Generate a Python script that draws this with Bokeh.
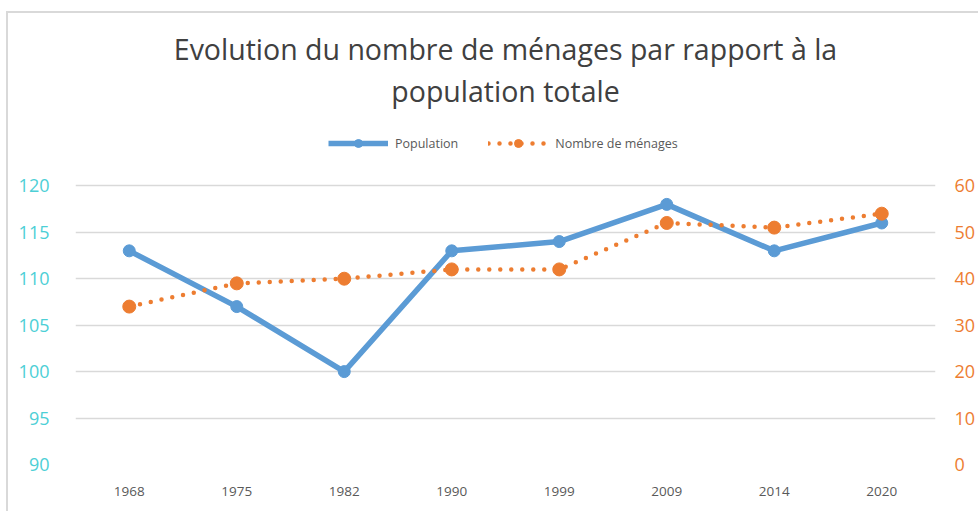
from bokeh.plotting import figure
from bokeh.models import (ColumnDataSource, FactorRange, Range1d, LinearAxis, FixedTicker,
                          Legend, LegendItem, Title)
from bokeh.embed import file_html
from bokeh.resources import INLINE

years = ["1968", "1975", "1982", "1990", "1999", "2009", "2014", "2020"]
population = [113, 107, 100, 113, 114, 118, 113, 116]
menages = [34, 39, 40, 42, 42, 52, 51, 54]
pop_ticks = [90, 95, 100, 105, 110, 115, 120]
men_ticks = [0, 10, 20, 30, 40, 50, 60]

BLUE = "#5B9BD5"
ORANGE = "#ED7D31"
TEAL = "#4DCFD6"
GREY = "#595959"
GRID = "#D9D9D9"
FONT = "Open Sans"

src = ColumnDataSource(dict(year=years, pop=population, men=menages))

# frame extends above the 120 / 60 gridline to host the legend (no ticks there)
p = figure(width=978, height=511, x_range=FactorRange(*years, range_padding=0),
           y_range=Range1d(90, 128), output_backend="svg", toolbar_location=None,
           min_border_left=75, min_border_right=42, min_border_top=111, min_border_bottom=47)
p.extra_y_ranges = {"men": Range1d(0, 76)}
p.outline_line_color = None
p.background_fill_color = "white"
p.border_fill_color = None
p.styles = {"background": "linear-gradient(#D9D9D9,#D9D9D9) 6px 11px / 2px 100% no-repeat, "
                          "linear-gradient(#D9D9D9,#D9D9D9) 6px 11px / 100% 2px no-repeat, white"}

# left axis
ya = p.yaxis[0]
ya.ticker = FixedTicker(ticks=pop_ticks)
ya.axis_line_color = None
ya.major_tick_line_color = None
ya.minor_tick_line_color = None
ya.major_label_standoff = 20
ya.major_label_text_color = TEAL
ya.major_label_text_font = FONT
ya.major_label_text_font_size = "18px"

# right axis
ra = LinearAxis(y_range_name="men", ticker=FixedTicker(ticks=men_ticks))
ra.axis_line_color = None
ra.major_tick_line_color = None
ra.minor_tick_line_color = None
ra.major_label_standoff = 13
ra.major_label_text_color = ORANGE
ra.major_label_text_font = FONT
ra.major_label_text_font_size = "18px"
p.add_layout(ra, "right")

xa = p.xaxis[0]
xa.axis_line_color = None
xa.major_tick_line_color = None
xa.minor_tick_line_color = None
xa.major_label_standoff = 16
xa.major_label_text_color = GREY
xa.major_label_text_font = FONT
xa.major_label_text_font_size = "13.5px"

p.xgrid.grid_line_color = None
p.ygrid.grid_line_color = GRID
p.ygrid.grid_line_width = 1.5

l1 = p.line("year", "pop", source=src, color=BLUE, line_width=5.5)
m1 = p.scatter("year", "pop", source=src, size=12, color=BLUE)
l2 = p.line("year", "men", source=src, color=ORANGE, line_width=4.5, y_range_name="men",
            line_dash="0 11", line_cap="round")
m2 = p.scatter("year", "men", source=src, size=13, color=ORANGE, y_range_name="men")

legend = Legend(items=[LegendItem(label="Population", renderers=[l1, m1]),
                       LegendItem(label="Nombre de ménages", renderers=[l2, m2])],
                orientation="horizontal", location=(253, 311), margin=0,
                glyph_width=60, glyph_height=20, label_standoff=7, spacing=30,
                padding=5, label_text_font=FONT, label_text_font_size="12.5px",
                label_text_color=GREY, background_fill_alpha=0, border_line_color=None)
p.add_layout(legend, "center")

t2 = Title(text="population totale", align="center", text_font=FONT, text_font_size="28.5px",
           text_font_style="normal", text_color="#404040", standoff=4)
t1 = Title(text="Evolution du nombre de ménages par rapport à la", align="center", text_font=FONT,
           text_font_size="28.5px", text_font_style="normal", text_color="#404040", standoff=0)
p.add_layout(t2, "above")
p.add_layout(t1, "above")

open("out.html", "w").write(file_html(p, INLINE))
